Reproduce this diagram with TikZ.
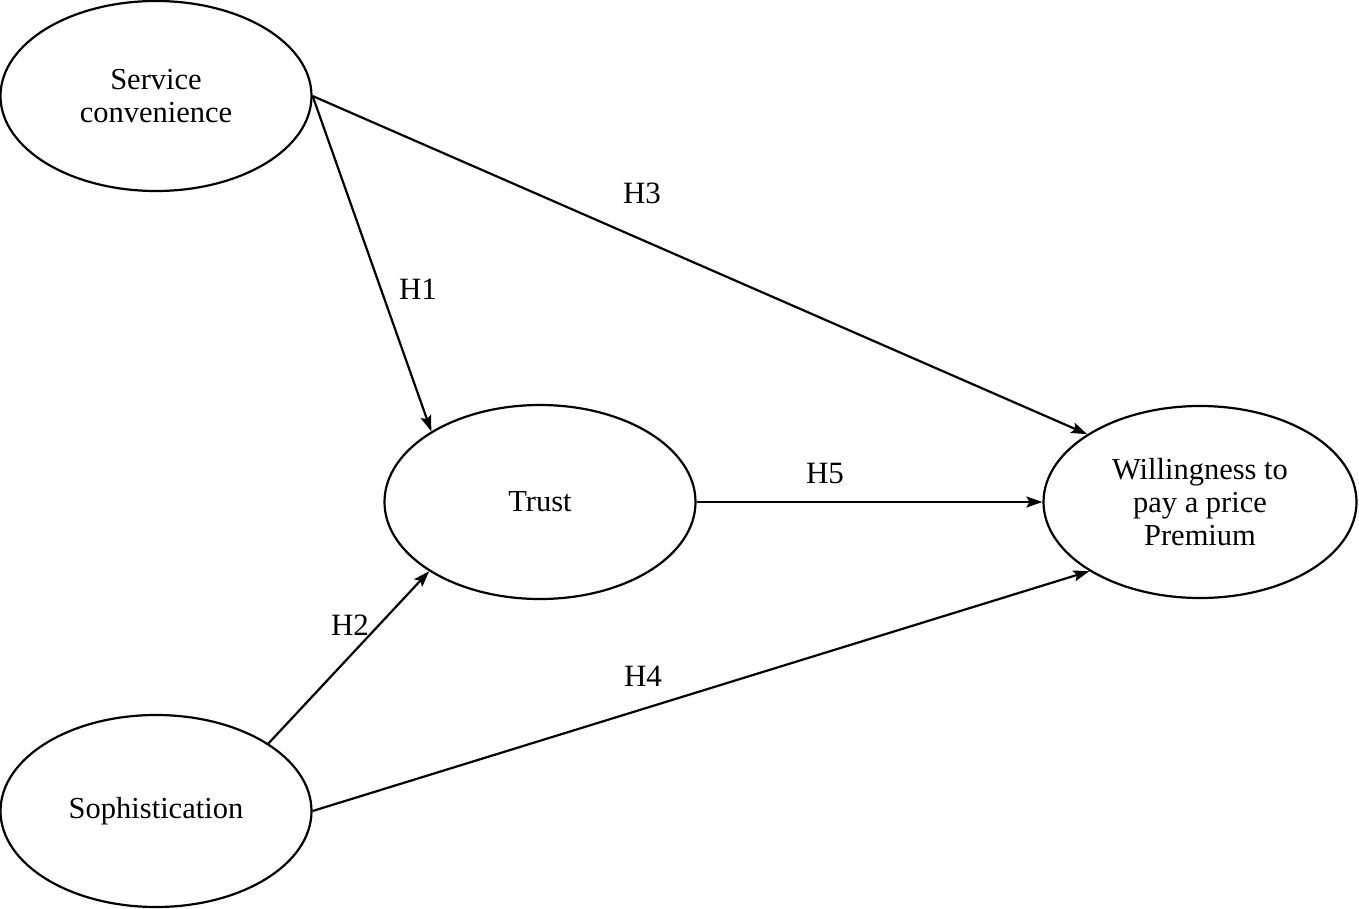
\documentclass[tikz,border=0pt]{standalone}
\usepackage{fontspec}
\setmainfont{Liberation Serif}
\usetikzlibrary{arrows.meta,shapes.geometric}
\begin{document}
\begin{tikzpicture}[x=1pt,y=-1pt,
  construct/.style={draw=black, line width=2.2pt, ellipse, inner sep=0pt, align=center,
    font=\fontsize{30.5}{33}\selectfont},
  link/.style={line width=2.2pt, -{Stealth[length=16pt,width=11pt,inset=3pt]}},
  hyp/.style={font=\fontsize{31}{33}\selectfont, inner sep=0pt}]
\useasboundingbox (0,0) rectangle (1359,909);
\node[construct, minimum width=311pt, minimum height=190pt] (sc) at (156,96) {Service\\convenience};
\node[construct, minimum width=311pt, minimum height=194pt] (trust) at (540,502) {Trust};
\node[construct, minimum width=313pt, minimum height=192pt] (will) at (1200,502) {Willingness to\\pay a price\\Premium};
\node[construct, minimum width=311pt, minimum height=192pt] (soph) at (156,811) {Sophistication};
\draw[link] (sc.east) -- (trust.147);
\draw[link] (sc.east) -- (will.149);
\draw[link] (trust.east) -- (will.west);
\draw[link] (soph.31) -- (trust.212);
\draw[link] (soph.east) -- (will.212);
\node[hyp] (h1) at (418,289) {H1};
\node[hyp] (h2) at (350,625) {H2};
\node[hyp] (h3) at (642,193) {H3};
\node[hyp] (h4) at (643,676) {H4};
\node[hyp] (h5) at (825,473) {H5};
\end{tikzpicture}
\end{document}
